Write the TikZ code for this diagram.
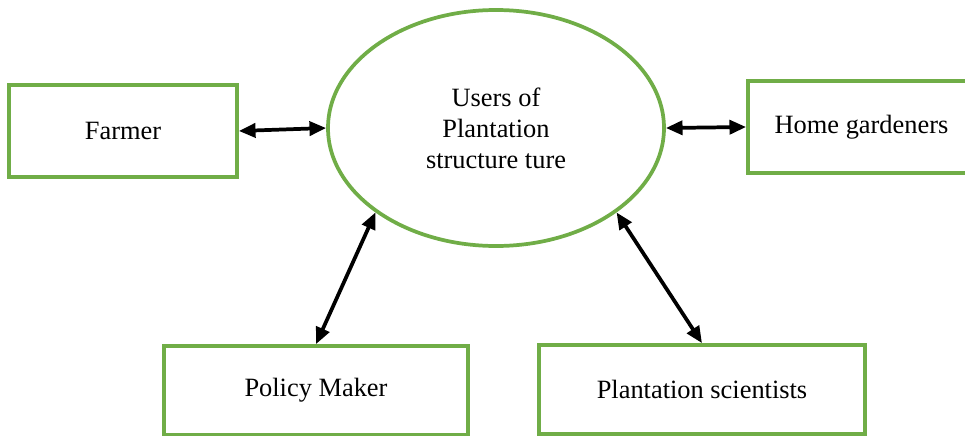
\documentclass[tikz,border=0pt]{standalone}
\usepackage{fontspec}
\setmainfont{Liberation Serif}
\usetikzlibrary{arrows.meta,shapes.geometric}
\definecolor{boxgreen}{RGB}{112,173,71}
\tikzset{
  greenbox/.style={draw=boxgreen, line width=2.8pt, rectangle, inner sep=0pt, font=\fontsize{19.8}{23.3}\selectfont},
  greenell/.style={draw=boxgreen, line width=2.8pt, ellipse, inner sep=0pt, align=center, font=\fontsize{19.8}{23.3}\selectfont},
  link/.style={line width=2.8pt, {Triangle[length=12.5pt,width=10.5pt]}-{Triangle[length=12.5pt,width=10.5pt]}}
}
\begin{document}
\begin{tikzpicture}[x=0.75pt,y=-0.75pt]
\useasboundingbox (0,0) rectangle (965,436);
\clip (0,0) rectangle (965,436);
\node[greenell, minimum width=252pt, minimum height=177pt] (users) at (496,128) {Users of\\Plantation\\structure ture};
\node[greenbox, minimum width=171pt, minimum height=69pt] (farmer) at (123,131) {Farmer};
\node[greenbox, minimum width=170.25pt, minimum height=69pt] (home) at (861.5,127) {Home gardeners};
\node[greenbox, minimum width=228pt, minimum height=66.75pt] (policy) at (316,390.5) {Policy Maker};
\node[greenbox, minimum width=244.5pt, minimum height=66.75pt] (sci) at (702,389.5) {Plantation scientists};
\draw[link] (farmer.east) -- (users.west);
\draw[link] (users.east) -- (home.west);
\draw[link] (users.215) -- (policy.north);
\draw[link] (users.325) -- (sci.north);
\end{tikzpicture}
\end{document}
